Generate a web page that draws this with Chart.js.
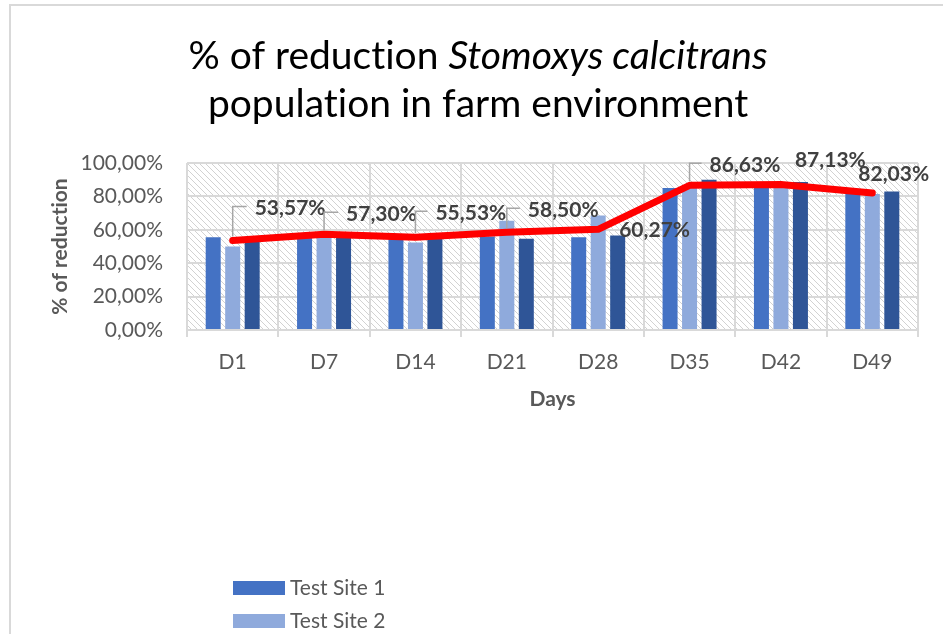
<!DOCTYPE html>
<html>
<head>
<meta charset="utf-8">
<title>% of reduction Stomoxys calcitrans</title>
<script src="https://cdn.jsdelivr.net/npm/chart.js@4"></script>
<style>
    html, body { margin: 0; padding: 0; background: #fff; }
    canvas { display: block; }
</style>
</head>
<body>
<canvas id="myChart" width="943" height="634"></canvas>
<script>
//Chart data:
const days = ['D1', 'D7', 'D14', 'D21', 'D28', 'D35', 'D42', 'D49'];
const testSite1 = [55.5, 55.6, 55.0, 56.0, 55.6, 85.0, 86.0, 83.0];
const testSite2 = [50.0, 55.8, 52.4, 65.4, 68.6, 85.0, 87.0, 81.4];
const testSite3 = [54.5, 55.6, 55.5, 54.6, 56.6, 90.0, 88.6, 83.0];
const meanReduction = [53.57, 57.30, 55.53, 58.50, 60.27, 86.63, 87.13, 82.03];
const yTicks = [0, 20, 40, 60, 80, 100];

//Label placement next to each point of the red line: [dx, dy, leader line]
const labelOffsets = [
    [22, -32, true], [22, -20, true], [20, -24, true], [21, -22, true],
    [21, 1, false], [20, -20, true], [14, -24, false], [-14, -19, false]
];

const fmt = v => v.toFixed(2).replace('.', ',') + '%';
const FONT = 'Lato, "Open Sans", sans-serif';
Chart.defaults.font.family = FONT;

//Hatched fill of the plot area:
const hatch = document.createElement('canvas');
hatch.width = hatch.height = 6;
const hctx = hatch.getContext('2d');
hctx.strokeStyle = '#d2d2d2';
hctx.lineWidth = 1;
hctx.beginPath();
hctx.moveTo(0, 0); hctx.lineTo(6, 6);
hctx.moveTo(-3, 3); hctx.lineTo(3, 9);
hctx.moveTo(3, -3); hctx.lineTo(9, 3);
hctx.stroke();

const background = {
    id: 'background',
    beforeDraw(chart) {
        const {ctx, chartArea: a} = chart;
        ctx.textRendering = 'optimizeSpeed'; //no "ti" ligatures
        ctx.save();
        ctx.fillStyle = '#fff';
        ctx.fillRect(0, 0, chart.width, chart.height);

        //outer frame
        ctx.strokeStyle = '#d9d9d9';
        ctx.lineWidth = 2;
        ctx.strokeRect(10, 5, chart.width + 20, chart.height + 20);

        //plot area pattern
        ctx.fillStyle = ctx.createPattern(hatch, 'repeat');
        ctx.fillRect(a.left, a.top, a.right - a.left, a.bottom - a.top);

        //title with italic species name
        const lines = [
            [['% of reduction ', ''], ['Stomoxys calcitrans', 'italic ']],
            [['population in farm environment', '']]
        ];
        const baselines = [69, 117];
        ctx.fillStyle = '#000';
        ctx.textBaseline = 'alphabetic';
        ctx.textAlign = 'left';
        lines.forEach((parts, i) => {
            let total = 0;
            parts.forEach(([t, style]) => { ctx.font = style + '39px ' + FONT; total += ctx.measureText(t).width; });
            let x = 478 - total / 2;
            parts.forEach(([t, style]) => {
                ctx.font = style + '39px ' + FONT;
                ctx.fillText(t, x, baselines[i]);
                x += ctx.measureText(t).width;
            });
        });

        //legend (one entry per row, cut by the picture edge)
        ctx.font = '21px ' + FONT;
        ctx.textBaseline = 'middle';
        chart.data.datasets.forEach((ds, i) => {
            const y = 581 + i * 33;
            ctx.fillStyle = ds.legendColor || ds.backgroundColor;
            ctx.fillRect(233, y, 52, 14);
            ctx.fillStyle = '#595959';
            ctx.fillText(ds.label, 290, y + 7);
        });
        ctx.restore();
    }
};

const pointLabels = {
    id: 'pointLabels',
    afterDatasetsDraw(chart) {
        const {ctx} = chart;
        const meta = chart.getDatasetMeta(3);
        ctx.save();
        ctx.font = 'bold 21px ' + FONT;
        ctx.textBaseline = 'middle';
        ctx.textAlign = 'left';
        meta.data.forEach((pt, i) => {
            const [dx, dy, leader] = labelOffsets[i];
            const tx = pt.x + dx, ty = pt.y + dy;
            if (leader) {
                ctx.strokeStyle = '#a6a6a6';
                ctx.lineWidth = 1.5;
                ctx.beginPath();
                ctx.moveTo(pt.x, pt.y - 4);
                ctx.lineTo(pt.x, ty - 2);
                ctx.lineTo(tx - 8, ty - 2);
                ctx.stroke();
            }
            ctx.fillStyle = '#404040';
            ctx.fillText(fmt(meanReduction[i]), tx, ty);
        });
        ctx.restore();
    }
};

const ctx = document.getElementById('myChart').getContext('2d');

const chart = new Chart(ctx, {
    data: {
        labels: days,
        datasets: [
            { type: 'bar', label: 'Test Site 1', data: testSite1, backgroundColor: '#4472C4', order: 1 },
            { type: 'bar', label: 'Test Site 2', data: testSite2, backgroundColor: '#8FAADC', order: 1 },
            { type: 'bar', label: 'Test Site 3', data: testSite3, backgroundColor: '#2F5597', order: 1 },
            {
                type: 'line', label: 'Average', data: meanReduction, legendColor: '#FF0000',
                borderColor: '#FF0000', backgroundColor: '#FF0000', borderWidth: 7,
                pointRadius: 0, tension: 0, borderCapStyle: 'round', borderJoinStyle: 'round', order: 0
            }
        ]
    },
    options: {
        responsive: false,
        animation: false,
        layout: { padding: { top: 163, right: 25, bottom: 219, left: 0 } },
        datasets: { bar: { categoryPercentage: 0.64, barPercentage: 0.77 } },
        plugins: {
            legend: { display: false },
            tooltip: { enabled: false }
        },
        scales: {
            x: {
                grid: { offset: true, color: '#d9d9d9', lineWidth: 2, tickLength: 7 },
                border: { display: false },
                ticks: { color: '#595959', font: { size: 21 }, padding: 13 },
                title: {
                    display: true, text: 'Days', color: '#595959',
                    font: { size: 21, weight: 'bold' }, padding: { top: 0, bottom: 3 }
                },
                afterFit(scale) { scale.height = 85; }
            },
            y: {
                min: 0,
                max: 100,
                afterBuildTicks(scale) { scale.ticks = yTicks.map(v => ({ value: v })); },
                grid: { color: '#d9d9d9', lineWidth: 2, drawTicks: false },
                border: { display: false },
                ticks: { color: '#595959', font: { size: 21 }, padding: 24, callback: v => fmt(v) },
                title: {
                    display: true, text: '% of reduction', color: '#595959',
                    font: { size: 21, weight: 'bold' }, padding: { top: 48, bottom: 0 }
                },
                afterFit(scale) { scale.width = 187; }
            }
        }
    },
    plugins: [background, pointLabels]
});
</script>
</body>
</html>
